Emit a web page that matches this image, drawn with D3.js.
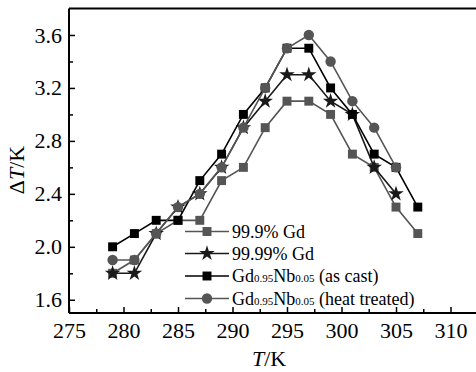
<!DOCTYPE html>
<html><head><meta charset="utf-8">
<script src="https://cdn.jsdelivr.net/npm/d3@7"></script>
<style>body{margin:0;background:#fff}svg{display:block}</style>
</head><body><div id="c"></div>
<script>
const temps = [279,281,283,285,287,289,291,293,295,297,299,301,303,305,307];
const gd999 = [1.8,1.9,2.1,2.2,2.2,2.5,2.6,2.9,3.1,3.1,3.0,2.7,2.6,2.3,2.1];
const gd9999 = [1.8,1.8,2.1,2.3,2.4,2.6,2.9,3.1,3.3,3.3,3.1,3.0,2.6,2.4];
const gdNbCast = [2.0,2.1,2.2,2.2,2.5,2.7,3.0,3.2,3.5,3.5,3.2,3.0,2.7,2.6,2.3];
const gdNbHeat = [1.9,1.9,2.1,2.3,2.4,2.6,2.9,3.2,3.5,3.6,3.4,3.1,2.9,2.6];
const xTicks = [275,280,285,290,295,300,305,310];
const yTicks = [1.6,2.0,2.4,2.8,3.2,3.6];

const FF="'Liberation Serif','Times New Roman',serif";
const W=476,H=372;
const svg=d3.select("#c").append("svg").attr("width",W).attr("height",H);
const x=d3.scaleLinear().domain([275,315]).range([69,505]);
const y=d3.scaleLinear().domain([1.5,3.8]).range([313,8.5]);

const series=[
 {name:"99.9% Gd", vals:gd999, color:"#555", shape:"square"},
 {name:"99.99% Gd", vals:gd9999, color:"#1a1a1a", shape:"star"},
 {name:"cast", vals:gdNbCast, color:"#000", shape:"square"},
 {name:"heat", vals:gdNbHeat, color:"#555", shape:"circle"}
];
const sym={square:d3.symbol(d3.symbolSquare,80), circle:d3.symbol(d3.symbolCircle,85), star:d3.symbol(d3.symbolStar,75)};

svg.append("line").attr("x1",69).attr("x2",W).attr("y1",8.5).attr("y2",8.5).attr("stroke","#000").attr("stroke-width",2);
const xa=svg.append("g").attr("transform","translate(0,313)")
 .call(d3.axisBottom(x).tickValues(xTicks).tickSize(-6).tickPadding(9).tickFormat(d3.format("d")));
const xm=svg.append("g").attr("transform","translate(0,313)")
 .call(d3.axisBottom(x).tickValues(d3.range(277.5,315,5)).tickSize(-4).tickFormat(""));
const ya=svg.append("g").attr("transform","translate(69,0)")
 .call(d3.axisLeft(y).tickValues(yTicks).tickSize(-6).tickPadding(7).tickFormat(d3.format(".1f")));
const ym=svg.append("g").attr("transform","translate(69,0)")
 .call(d3.axisLeft(y).tickValues(d3.range(1.8,3.8,0.4)).tickSize(-4).tickFormat(""));
[xa,xm,ya,ym].forEach(g=>{g.attr("font-family",null);g.select(".domain").attr("stroke-width",2);g.selectAll(".tick line").attr("stroke-width",1.5);g.selectAll("text").style("font-size","22px").style("font-family",FF).attr("fill","#000")});
xa.select(".domain").attr("d","M69,0H"+W);
xm.select(".domain").remove();
ya.select(".domain").attr("d","M0,313V8.5");
ym.select(".domain").remove();

const line=d3.line().x((d,i)=>x(temps[i])).y(d=>y(d));
series.forEach(s=>{
 const g=svg.append("g");
 g.append("path").datum(s.vals).attr("d",line).attr("fill","none").attr("stroke",s.color).attr("stroke-width",1.6);
 g.selectAll("path.m").data(s.vals).join("path").attr("class","m")
  .attr("d",sym[s.shape]).attr("transform",(d,i)=>`translate(${x(temps[i])},${y(d)})`).attr("fill",s.color);
});

const leg=svg.append("g");
const rows=[231.5,253.5,276,298.5];
series.forEach((s,i)=>{
 const r=leg.append("g").attr("transform",`translate(0,${rows[i]})`);
 r.append("line").attr("x1",185).attr("x2",229).attr("stroke",s.color).attr("stroke-width",1.6);
 r.append("path").attr("d",sym[s.shape]).attr("transform","translate(207,0)").attr("fill",s.color);
 const t=r.append("text").attr("x",232).attr("y",6).style("font-size","18px").style("font-family",FF);
 if(i<2){t.text(s.name);}
 else{
  t.append("tspan").text("Gd");
  t.append("tspan").style("font-size","11px").text("0.95");
  t.append("tspan").text("Nb");
  t.append("tspan").style("font-size","11px").text("0.05");
  t.append("tspan").text(i===2?" (as cast)":" (heat treated)");
 }
});

const xt=svg.append("text").attr("x",269).attr("y",366).attr("text-anchor","middle").style("font-size","22px").style("font-family",FF);
xt.append("tspan").style("font-style","italic").text("T");
xt.append("tspan").text("/K");
const yt=svg.append("text").attr("transform","translate(24,170) rotate(-90)").attr("text-anchor","middle").style("font-size","22px").style("font-family",FF);
yt.append("tspan").text("Δ");
yt.append("tspan").style("font-style","italic").text("T");
yt.append("tspan").text("/K");
</script></body></html>
